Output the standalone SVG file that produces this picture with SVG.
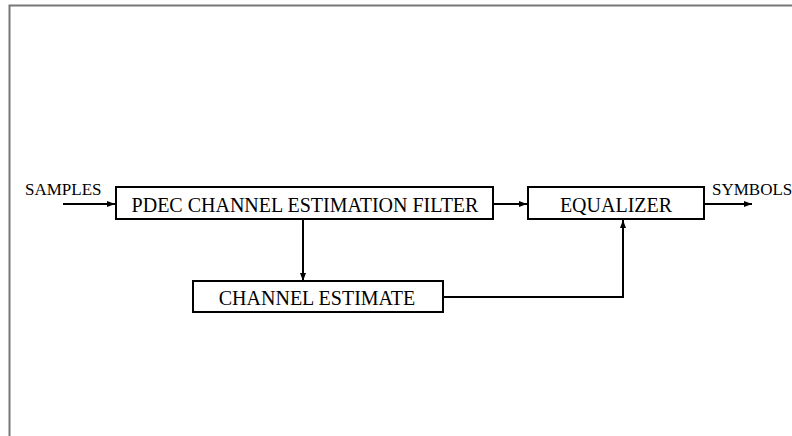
<svg xmlns="http://www.w3.org/2000/svg" width="792" height="436" viewBox="0 0 792 436">
<style>
.box{fill:#fff;stroke:#000;stroke-width:2}
.ln{fill:none;stroke:#000;stroke-width:2}
.t{font-family:"Liberation Serif","Times New Roman",serif;font-size:20px;fill:#000}
.s{font-family:"Liberation Serif","Times New Roman",serif;font-size:17px;fill:#000}
</style>
<defs>
<marker id="ah" viewBox="0 0 8 8" refX="8" refY="4" markerWidth="8" markerHeight="8" markerUnits="userSpaceOnUse" orient="auto">
<path d="M0,1 L8,4 L0,7 Z" fill="#000"/>
</marker>
</defs>
<rect width="792" height="436" fill="#fff"/>
<path d="M9.5,436 V5.5 H792" fill="none" stroke="#777" stroke-width="2"/>
<g id="connectors">
<path class="ln" d="M63,204 H115" marker-end="url(#ah)"/>
<path class="ln" d="M493,204 H527" marker-end="url(#ah)"/>
<path class="ln" d="M704,204 H752" marker-end="url(#ah)"/>
<path class="ln" d="M303,219 V281" marker-end="url(#ah)"/>
<path class="ln" d="M443,297 H623 V220" marker-end="url(#ah)"/>
</g>
<g id="samples"><text class="s" x="25" y="195">SAMPLES</text></g>
<g id="symbols"><text class="s" x="712" y="195">SYMBOLS</text></g>
<g id="pdec">
<rect class="box" x="116" y="187" width="377" height="32"/>
<text class="t" x="305" y="212" text-anchor="middle">PDEC CHANNEL ESTIMATION FILTER</text>
</g>
<g id="equalizer">
<rect class="box" x="528" y="187" width="176" height="32"/>
<text class="t" x="616" y="212" text-anchor="middle">EQUALIZER</text>
</g>
<g id="estimate">
<rect class="box" x="193" y="281" width="250" height="31"/>
<text class="t" x="317" y="305" text-anchor="middle">CHANNEL ESTIMATE</text>
</g>
</svg>
